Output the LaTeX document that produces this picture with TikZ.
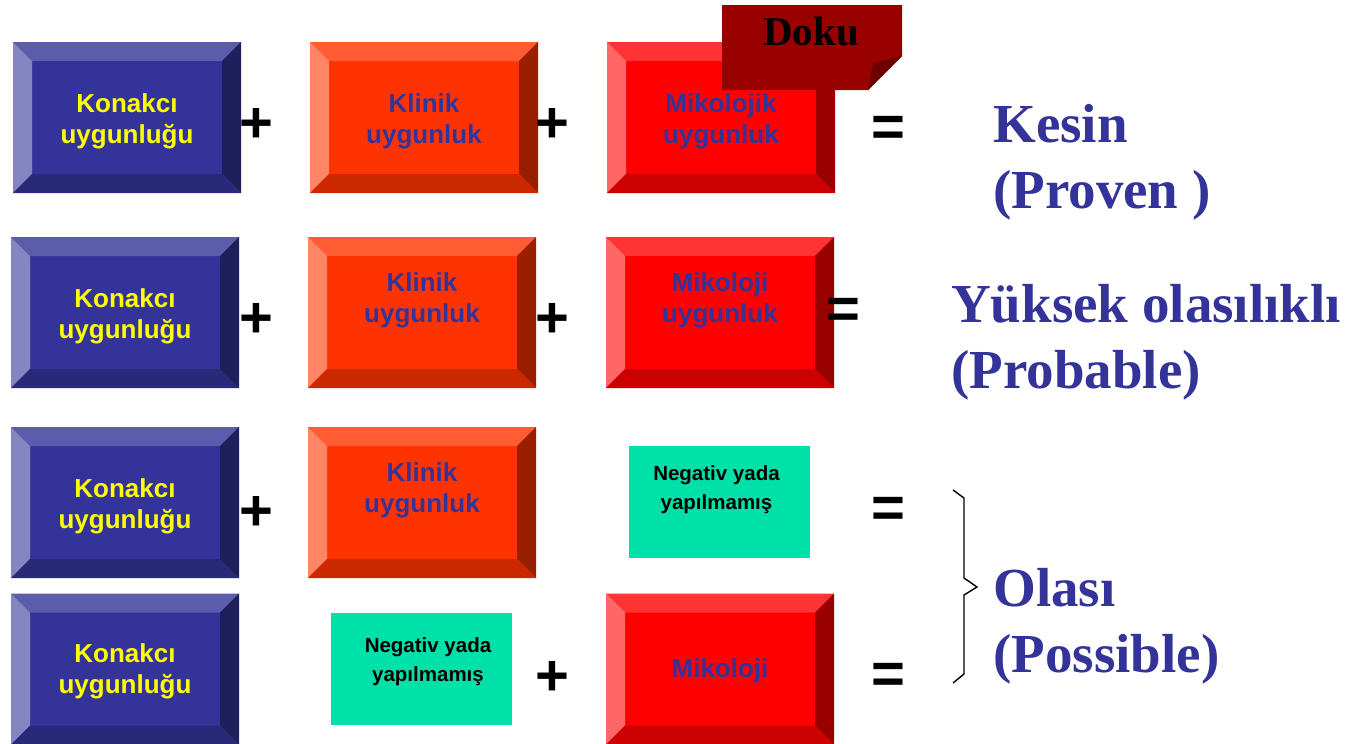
\documentclass[tikz,border=0pt]{standalone}
\usepackage{fontspec}
\setmainfont{Liberation Serif}
\setsansfont{Liberation Sans}
\definecolor{blueF}{HTML}{333399}
\definecolor{blueT}{HTML}{5C5CAD}
\definecolor{blueL}{HTML}{8585C2}
\definecolor{blueR}{HTML}{1F1F5C}
\definecolor{blueB}{HTML}{29297A}
\definecolor{orF}{HTML}{FF3300}
\definecolor{orT}{HTML}{FF5C33}
\definecolor{orL}{HTML}{FF8566}
\definecolor{orR}{HTML}{991F00}
\definecolor{orB}{HTML}{CC2900}
\definecolor{redF}{HTML}{FF0000}
\definecolor{redT}{HTML}{FF3333}
\definecolor{redL}{HTML}{FF6666}
\definecolor{redR}{HTML}{990000}
\definecolor{redB}{HTML}{CC0000}
\definecolor{dokuF}{HTML}{990000}
\definecolor{dokuD}{HTML}{6E0000}
\definecolor{greenF}{HTML}{00E1A9}
\definecolor{tblue}{HTML}{333399}
\definecolor{tyellow}{HTML}{FFFF00}
\newcommand{\bevelbox}[3]{% name, colour prefix, centre
  \node[bbox, fill=#2F] (#1) at (#3) {};
  \fill[#2T] (#1.north west) -- (#1.north east) -- ([shift={(-19,19)}]#1.north east) -- ([shift={(19,19)}]#1.north west) -- cycle;
  \fill[#2L] (#1.north west) -- ([shift={(19,19)}]#1.north west) -- ([shift={(19,-19)}]#1.south west) -- (#1.south west) -- cycle;
  \fill[#2R] (#1.north east) -- (#1.south east) -- ([shift={(-19,-19)}]#1.south east) -- ([shift={(-19,19)}]#1.north east) -- cycle;
  \fill[#2B] (#1.south west) -- (#1.south east) -- ([shift={(-19,-19)}]#1.south east) -- ([shift={(19,-19)}]#1.south west) -- cycle;
}
\tikzset{
  bbox/.style={rectangle, minimum width=228pt, minimum height=151pt, inner sep=0pt, outer sep=0pt},
  boxlabel/.style={font=\sffamily\bfseries\fontsize{26}{31}\selectfont, align=center, anchor=base, inner sep=0pt},
  hostlabel/.style={boxlabel, text=tyellow},
  clinlabel/.style={boxlabel, text=tblue},
  neglabel/.style={font=\sffamily\bfseries\fontsize{20.5}{29}\selectfont, align=center, anchor=base, inner sep=0pt, text=black},
  op/.style={font=\sffamily\bfseries\fontsize{58}{58}\selectfont, inner sep=0pt, text=black, yshift=-3pt},
  result/.style={font=\rmfamily\bfseries\fontsize{55}{65.5}\selectfont, text=tblue, align=left, anchor=base west, inner sep=0pt},
  negbox/.style={fill=greenF, draw=none}
}
\begin{document}
\begin{tikzpicture}[x=1pt, y=-1pt]
\useasboundingbox (0,0) rectangle (1363,744);
\fill[white] (0,0) rectangle (1363,744);

% Row 1
\bevelbox{h1}{blue}{127,117.5}
\bevelbox{c1}{or}{424,117.5}
\bevelbox{m1}{red}{721,117.5}
\node[hostlabel] (h1t) at (127,143) {Konakcı\\uygunluğu};
\node[clinlabel] (c1t) at (424,143) {Klinik\\uygunluk};
\node[clinlabel] (m1t) at (721,143) {Mikolojik\\uygunluk};
\fill[dokuF] (722,5) -- (902,5) -- (902,56) -- (868,90) -- (722,90) -- cycle;
\fill[dokuD] (902,56) -- (873,63) -- (868,90) -- cycle;
\node[font=\rmfamily\bfseries\fontsize{41}{41}\selectfont, anchor=base, inner sep=0pt] (doku) at (811,45) {Doku};
\node[op] (p11) at (256,122) {+};
\node[op] (p12) at (552,122) {+};
\node[op] (e1) at (888,128) {=};
\node[result] (r1) at (993,208) {Kesin\\(Proven )};

% Row 2
\bevelbox{h2}{blue}{125,312.5}
\bevelbox{c2}{or}{422,312.5}
\bevelbox{m2}{red}{720,312.5}
\node[hostlabel] (h2t) at (125,338) {Konakcı\\uygunluğu};
\node[clinlabel] (c2t) at (422,322) {Klinik\\uygunluk};
\node[clinlabel] (m2t) at (720,322) {Mikoloji\\uygunluk};
\node[op] (p21) at (256,317) {+};
\node[op] (p22) at (552,317) {+};
\node[op] (e2) at (843,310) {=};
\node[result] (r2) at (951,388) {Yüksek olasılıklı\\(Probable)};

% Row 3
\bevelbox{h3}{blue}{125,502.5}
\bevelbox{c3}{or}{422,502.5}
\node[hostlabel] (h3t) at (125,528) {Konakcı\\uygunluğu};
\node[clinlabel] (c3t) at (422,512) {Klinik\\uygunluk};
\fill[negbox] (629,446) rectangle (810,558);
\node[neglabel] (n3t) at (716.5,509) {Negativ yada\\yapılmamış};
\node[op] (p31) at (256,510) {+};
\node[op] (e3) at (888,509) {=};

% Row 4
\bevelbox{h4}{blue}{125,669}
\bevelbox{m4}{red}{720,669}
\node[hostlabel] (h4t) at (125,693) {Konakcı\\uygunluğu};
\fill[negbox] (331,613) rectangle (512,725);
\node[neglabel] (n4t) at (428,681) {Negativ yada\\yapılmamış};
\node[clinlabel] (m4t) at (720,677) {Mikoloji};
\node[op] (p42) at (552,675) {+};
\node[op] (e4) at (888,675) {=};

% Brace and result
\coordinate (bt) at (953,490);
\coordinate (bb) at (953,683);
\draw[line width=1.4pt, line join=miter] (bt) -- (964,498) -- (964,578) -- (977,587) -- (964,595) -- (964,674) -- (bb);
\node[result] (r3) at (993,672) {Olası\\(Possible)};
\end{tikzpicture}
\end{document}
